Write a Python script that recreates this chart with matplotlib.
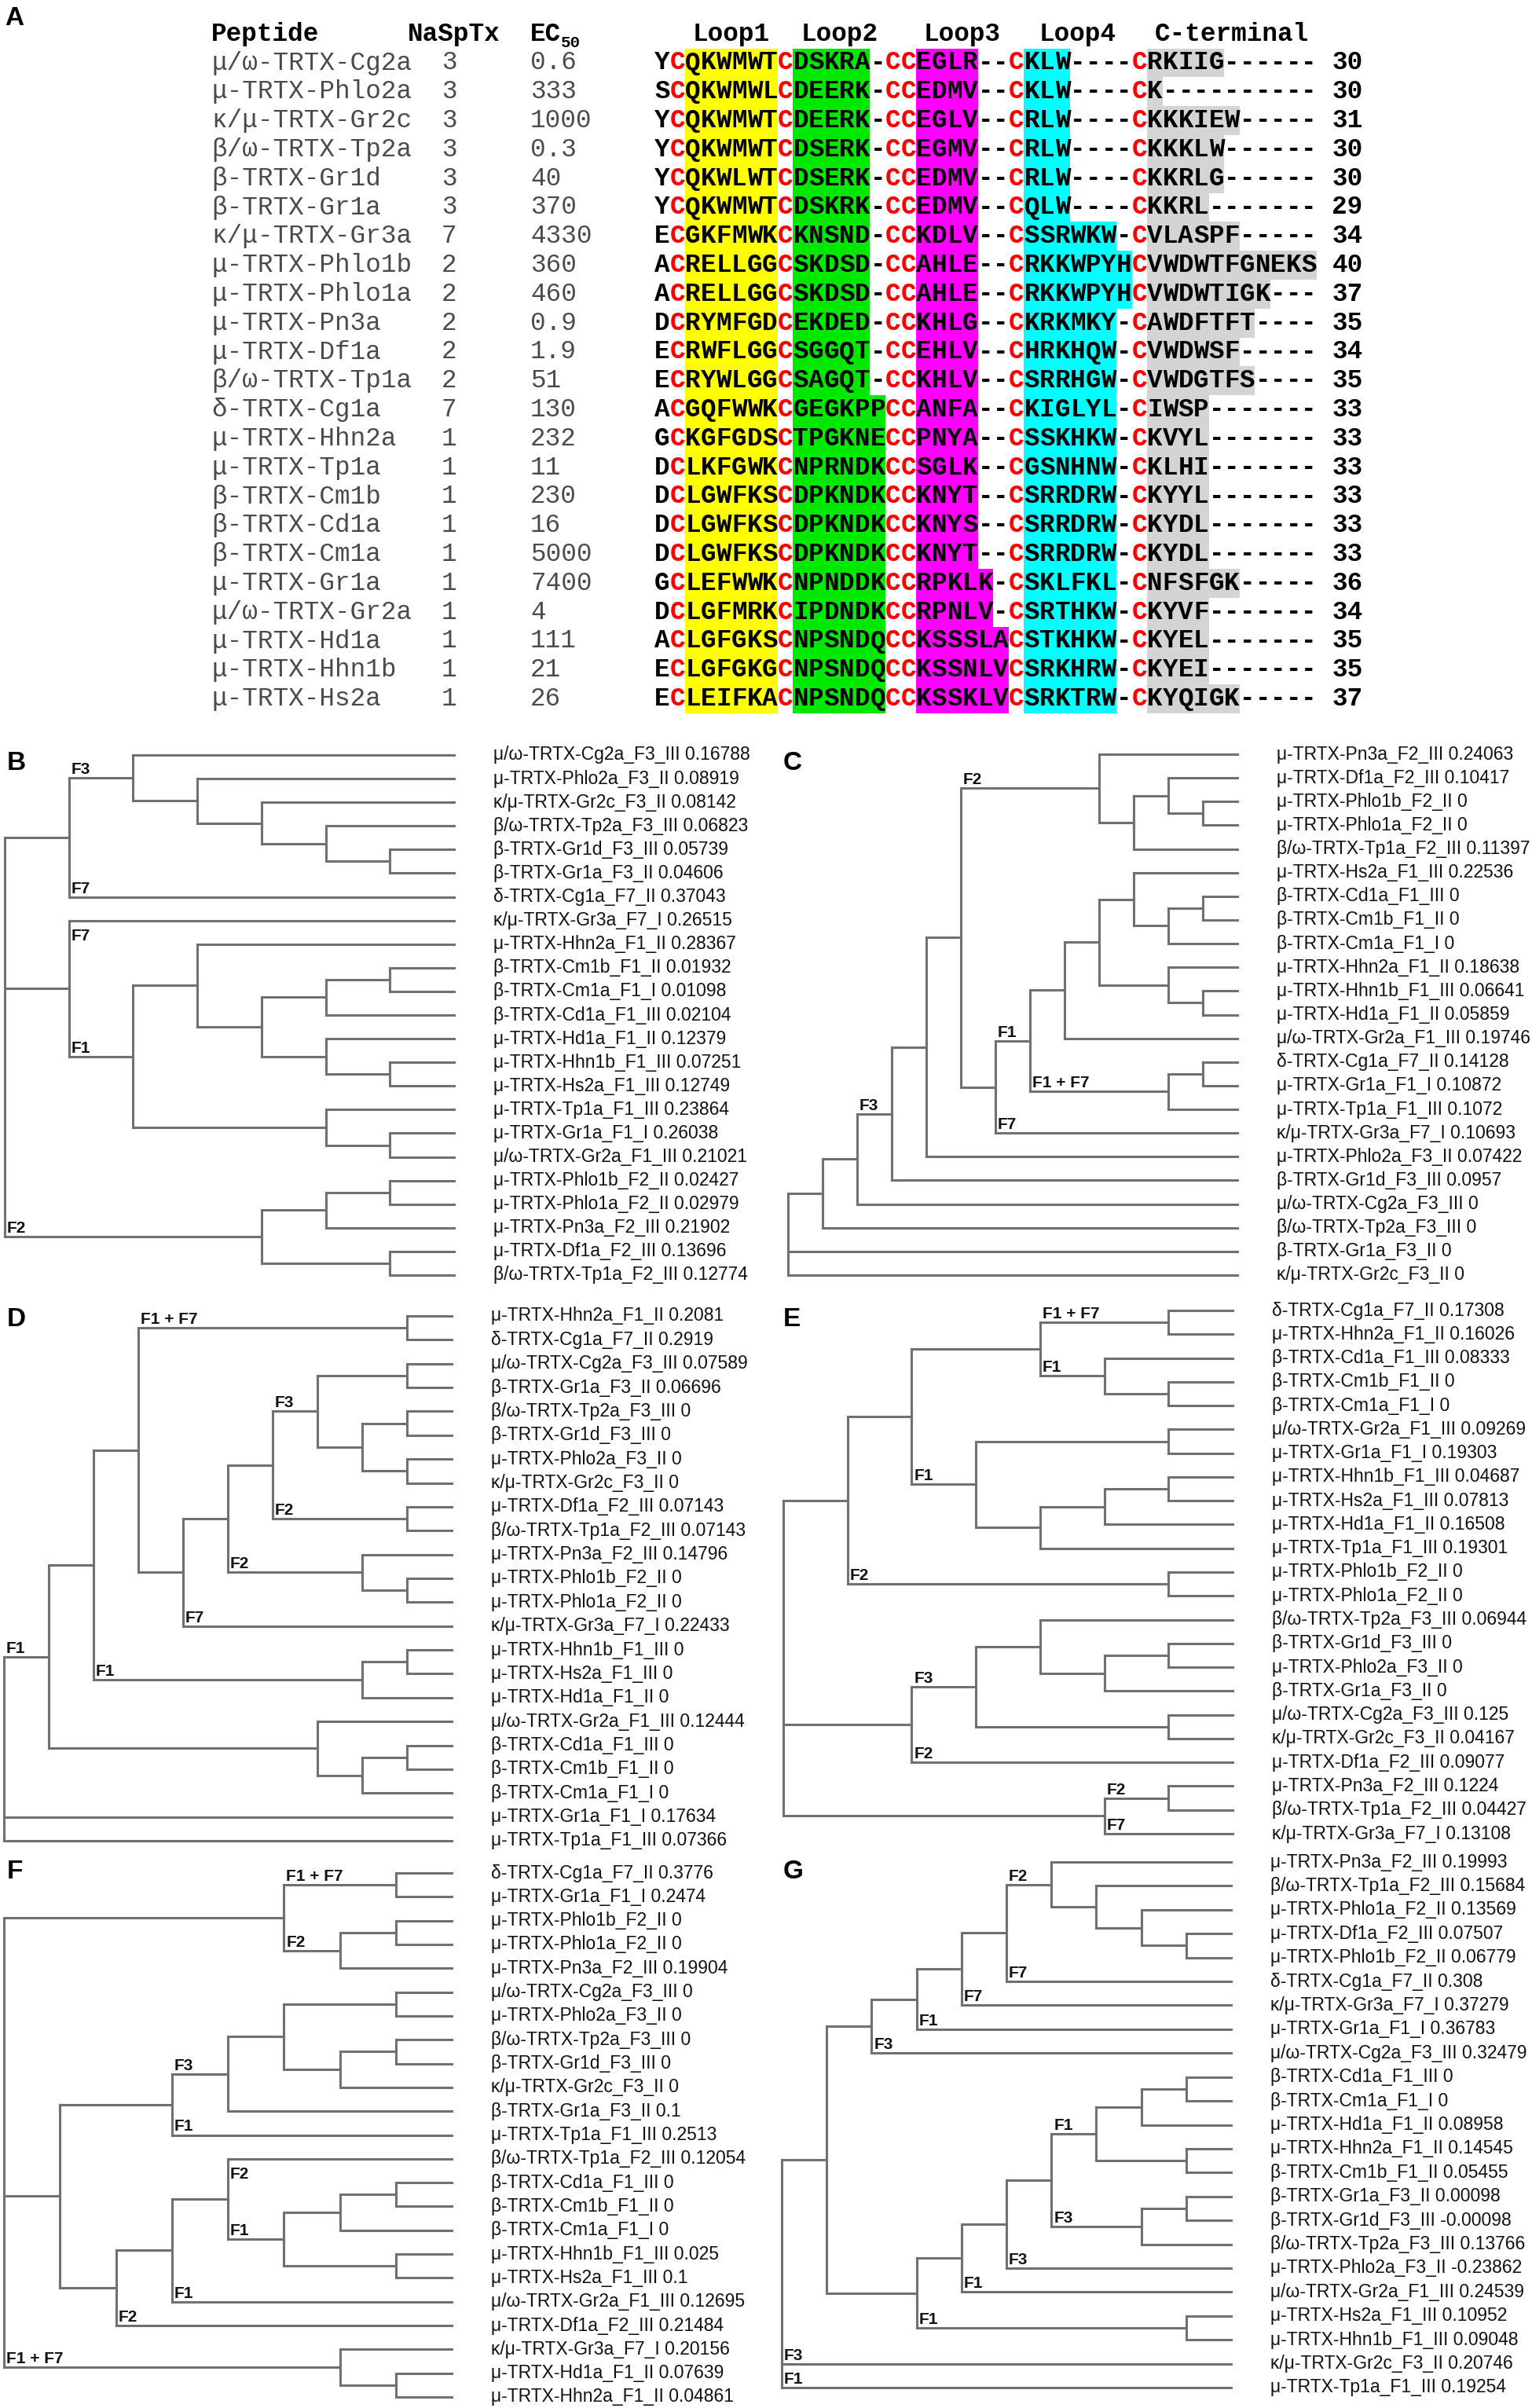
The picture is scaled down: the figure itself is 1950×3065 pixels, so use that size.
import matplotlib
matplotlib.use("Agg")
import matplotlib.pyplot as plt
from matplotlib.transforms import offset_copy

W, H, DPI = 1950, 3065, 100

# ---------------- panel A: alignment ----------------
PEPTIDES = ["μ/ω-TRTX-Cg2a", "μ-TRTX-Phlo2a", "κ/μ-TRTX-Gr2c", "β/ω-TRTX-Tp2a",
            "β-TRTX-Gr1d", "β-TRTX-Gr1a", "κ/μ-TRTX-Gr3a", "μ-TRTX-Phlo1b",
            "μ-TRTX-Phlo1a", "μ-TRTX-Pn3a", "μ-TRTX-Df1a", "β/ω-TRTX-Tp1a",
            "δ-TRTX-Cg1a", "μ-TRTX-Hhn2a", "μ-TRTX-Tp1a", "β-TRTX-Cm1b",
            "β-TRTX-Cd1a", "β-TRTX-Cm1a", "μ-TRTX-Gr1a", "μ/ω-TRTX-Gr2a",
            "μ-TRTX-Hd1a", "μ-TRTX-Hhn1b", "μ-TRTX-Hs2a"]
NASPTX = [3, 3, 3, 3, 3, 3, 7, 2, 2, 2, 2, 2, 7, 1, 1, 1, 1, 1, 1, 1, 1, 1, 1]
EC50 = ["0.6", "333", "1000", "0.3", "40", "370", "4330", "360", "460", "0.9", "1.9",
        "51", "130", "232", "11", "230", "16", "5000", "7400", "4", "111", "21", "26"]
FIRST = ["Y", "S", "Y", "Y", "Y", "Y", "E", "A", "A", "D", "E", "E",
         "A", "G", "D", "D", "D", "D", "G", "D", "A", "E", "E"]
LOOP1 = ["QKWMWT", "QKWMWL", "QKWMWT", "QKWMWT", "QKWLWT", "QKWMWT", "GKFMWK",
         "RELLGG", "RELLGG", "RYMFGD", "RWFLGG", "RYWLGG", "GQFWWK", "KGFGDS",
         "LKFGWK", "LGWFKS", "LGWFKS", "LGWFKS", "LEFWWK", "LGFMRK", "LGFGKS",
         "LGFGKG", "LEIFKA"]
LOOP2 = ["DSKRA", "DEERK", "DEERK", "DSERK", "DSERK", "DSKRK", "KNSND", "SKDSD",
         "SKDSD", "EKDED", "SGGQT", "SAGQT", "GEGKPP", "TPGKNE", "NPRNDK", "DPKNDK",
         "DPKNDK", "DPKNDK", "NPNDDK", "IPDNDK", "NPSNDQ", "NPSNDQ", "NPSNDQ"]
LOOP3 = ["EGLR", "EDMV", "EGLV", "EGMV", "EDMV", "EDMV", "KDLV", "AHLE", "AHLE",
         "KHLG", "EHLV", "KHLV", "ANFA", "PNYA", "SGLK", "KNYT", "KNYS", "KNYT",
         "RPKLK", "RPNLV", "KSSSLA", "KSSNLV", "KSSKLV"]
LOOP4 = ["KLW", "KLW", "RLW", "RLW", "RLW", "QLW", "SSRWKW", "RKKWPYH", "RKKWPYH",
         "KRKMKY", "HRKHQW", "SRRHGW", "KIGLYL", "SSKHKW", "GSNHNW", "SRRDRW",
         "SRRDRW", "SRRDRW", "SKLFKL", "SRTHKW", "STKHKW", "SRKHRW", "SRKTRW"]
CTERM = ["RKIIG", "K", "KKKIEW", "KKKLW", "KKRLG", "KKRL", "VLASPF", "VWDWTFGNEKS",
         "VWDWTIGK", "AWDFTFT", "VWDWSF", "VWDGTFS", "IWSP", "KVYL", "KLHI", "KYYL",
         "KYDL", "KYDL", "NFSFGK", "KYVF", "KYEL", "KYEI", "KYQIGK"]
LENGTHS = [30, 30, 31, 30, 30, 29, 34, 40, 37, 35, 34, 35, 33, 33, 33, 33, 33, 33,
           36, 34, 35, 35, 37]
REGION_NAMES = ["Loop1", "Loop2", "Loop3", "Loop4", "C-terminal"]

# ---------------- panels B-G: trees ----------------
# leaves are indices into *_NAMES; (label, node) marks a labelled clade,
# (label, node, "below") puts the label under the branch
B_NAMES = ["μ/ω-TRTX-Cg2a_F3_III", "μ-TRTX-Phlo2a_F3_II", "κ/μ-TRTX-Gr2c_F3_II",
           "β/ω-TRTX-Tp2a_F3_III", "β-TRTX-Gr1d_F3_III", "β-TRTX-Gr1a_F3_II",
           "δ-TRTX-Cg1a_F7_II", "κ/μ-TRTX-Gr3a_F7_I", "μ-TRTX-Hhn2a_F1_II",
           "β-TRTX-Cm1b_F1_II", "β-TRTX-Cm1a_F1_I", "β-TRTX-Cd1a_F1_III",
           "μ-TRTX-Hd1a_F1_II", "μ-TRTX-Hhn1b_F1_III", "μ-TRTX-Hs2a_F1_III",
           "μ-TRTX-Tp1a_F1_III", "μ-TRTX-Gr1a_F1_I", "μ/ω-TRTX-Gr2a_F1_III",
           "μ-TRTX-Phlo1b_F2_II", "μ-TRTX-Phlo1a_F2_II", "μ-TRTX-Pn3a_F2_III",
           "μ-TRTX-Df1a_F2_III", "β/ω-TRTX-Tp1a_F2_III"]
B_SCORES = ["0.16788", "0.08919", "0.08142", "0.06823", "0.05739", "0.04606",
            "0.37043", "0.26515", "0.28367", "0.01932", "0.01098", "0.02104",
            "0.12379", "0.07251", "0.12749", "0.23864", "0.26038", "0.21021",
            "0.02427", "0.02979", "0.21902", "0.13696", "0.12774"]
B_TOPO = [
    [("F3", [0, [1, [2, [3, [4, 5]]]]]), ("F7", 6)],
    [("F7", 7, "below"), ("F1", [[8, [[[9, 10], 11], [12, [13, 14]]]], [15, [16, 17]]])],
    ("F2", [[[18, 19], 20], [21, 22]]),
]

C_NAMES = ["μ-TRTX-Pn3a_F2_III", "μ-TRTX-Df1a_F2_III", "μ-TRTX-Phlo1b_F2_II",
           "μ-TRTX-Phlo1a_F2_II", "β/ω-TRTX-Tp1a_F2_III", "μ-TRTX-Hs2a_F1_III",
           "β-TRTX-Cd1a_F1_III", "β-TRTX-Cm1b_F1_II", "β-TRTX-Cm1a_F1_I",
           "μ-TRTX-Hhn2a_F1_II", "μ-TRTX-Hhn1b_F1_III", "μ-TRTX-Hd1a_F1_II",
           "μ/ω-TRTX-Gr2a_F1_III", "δ-TRTX-Cg1a_F7_II", "μ-TRTX-Gr1a_F1_I",
           "μ-TRTX-Tp1a_F1_III", "κ/μ-TRTX-Gr3a_F7_I", "μ-TRTX-Phlo2a_F3_II",
           "β-TRTX-Gr1d_F3_III", "μ/ω-TRTX-Cg2a_F3_III", "β/ω-TRTX-Tp2a_F3_III",
           "β-TRTX-Gr1a_F3_II", "κ/μ-TRTX-Gr2c_F3_II"]
C_SCORES = ["0.24063", "0.10417", "0", "0", "0.11397", "0.22536", "0", "0", "0",
            "0.18638", "0.06641", "0.05859", "0.19746", "0.14128", "0.10872", "0.1072",
            "0.10693", "0.07422", "0.0957", "0", "0", "0", "0"]
_c_f1 = ("F1", [[[[5, [[6, 7], 8]], [9, [10, 11]]], 12], ("F1 + F7", [[13, 14], 15])])
_c_core = [("F2", [0, [[1, [2, 3]], 4]]), [_c_f1, ("F7", 16)]]
C_TOPO = [[[("F3", [[_c_core, 17], 18]), 19], 20], 21, 22]

D_NAMES = ["μ-TRTX-Hhn2a_F1_II", "δ-TRTX-Cg1a_F7_II", "μ/ω-TRTX-Cg2a_F3_III",
           "β-TRTX-Gr1a_F3_II", "β/ω-TRTX-Tp2a_F3_III", "β-TRTX-Gr1d_F3_III",
           "μ-TRTX-Phlo2a_F3_II", "κ/μ-TRTX-Gr2c_F3_II", "μ-TRTX-Df1a_F2_III",
           "β/ω-TRTX-Tp1a_F2_III", "μ-TRTX-Pn3a_F2_III", "μ-TRTX-Phlo1b_F2_II",
           "μ-TRTX-Phlo1a_F2_II", "κ/μ-TRTX-Gr3a_F7_I", "μ-TRTX-Hhn1b_F1_III",
           "μ-TRTX-Hs2a_F1_III", "μ-TRTX-Hd1a_F1_II", "μ/ω-TRTX-Gr2a_F1_III",
           "β-TRTX-Cd1a_F1_III", "β-TRTX-Cm1b_F1_II", "β-TRTX-Cm1a_F1_I",
           "μ-TRTX-Gr1a_F1_I", "μ-TRTX-Tp1a_F1_III"]
D_SCORES = ["0.2081", "0.2919", "0.07589", "0.06696", "0", "0", "0", "0", "0.07143",
            "0.07143", "0.14796", "0", "0", "0.22433", "0", "0", "0", "0.12444", "0",
            "0", "0", "0.17634", "0.07366"]
_d_mid = [[[("F3", [[2, 3], [[4, 5], [6, 7]]]), ("F2", [8, 9])], ("F2", [10, [11, 12]])],
          ("F7", 13)]
_d_up = [[("F1 + F7", [0, 1]), _d_mid], ("F1", [[14, 15], 16])]
D_TOPO = [("F1", [_d_up, [17, [[18, 19], 20]]]), 21, 22]

E_NAMES = ["δ-TRTX-Cg1a_F7_II", "μ-TRTX-Hhn2a_F1_II", "β-TRTX-Cd1a_F1_III",
           "β-TRTX-Cm1b_F1_II", "β-TRTX-Cm1a_F1_I", "μ/ω-TRTX-Gr2a_F1_III",
           "μ-TRTX-Gr1a_F1_I", "μ-TRTX-Hhn1b_F1_III", "μ-TRTX-Hs2a_F1_III",
           "μ-TRTX-Hd1a_F1_II", "μ-TRTX-Tp1a_F1_III", "μ-TRTX-Phlo1b_F2_II",
           "μ-TRTX-Phlo1a_F2_II", "β/ω-TRTX-Tp2a_F3_III", "β-TRTX-Gr1d_F3_III",
           "μ-TRTX-Phlo2a_F3_II", "β-TRTX-Gr1a_F3_II", "μ/ω-TRTX-Cg2a_F3_III",
           "κ/μ-TRTX-Gr2c_F3_II", "μ-TRTX-Df1a_F2_III", "μ-TRTX-Pn3a_F2_III",
           "β/ω-TRTX-Tp1a_F2_III", "κ/μ-TRTX-Gr3a_F7_I"]
E_SCORES = ["0.17308", "0.16026", "0.08333", "0", "0", "0.09269", "0.19303", "0.04687",
            "0.07813", "0.16508", "0.19301", "0", "0", "0.06944", "0", "0", "0", "0.125",
            "0.04167", "0.09077", "0.1224", "0.04427", "0.13108"]
_e_top = [[[("F1 + F7", [0, 1]), ("F1", [2, [3, 4]])],
           ("F1", [[5, 6], [[[7, 8], 9], 10]])], ("F2", [11, 12])]
_e_f3 = [("F3", [[13, [[14, 15], 16]], [17, 18]]), ("F2", 19)]
E_TOPO = [_e_top, _e_f3, [("F2", [20, 21]), ("F7", 22)]]

F_NAMES = ["δ-TRTX-Cg1a_F7_II", "μ-TRTX-Gr1a_F1_I", "μ-TRTX-Phlo1b_F2_II",
           "μ-TRTX-Phlo1a_F2_II", "μ-TRTX-Pn3a_F2_III", "μ/ω-TRTX-Cg2a_F3_III",
           "μ-TRTX-Phlo2a_F3_II", "β/ω-TRTX-Tp2a_F3_III", "β-TRTX-Gr1d_F3_III",
           "κ/μ-TRTX-Gr2c_F3_II", "β-TRTX-Gr1a_F3_II", "μ-TRTX-Tp1a_F1_III",
           "β/ω-TRTX-Tp1a_F2_III", "β-TRTX-Cd1a_F1_III", "β-TRTX-Cm1b_F1_II",
           "β-TRTX-Cm1a_F1_I", "μ-TRTX-Hhn1b_F1_III", "μ-TRTX-Hs2a_F1_III",
           "μ/ω-TRTX-Gr2a_F1_III", "μ-TRTX-Df1a_F2_III", "κ/μ-TRTX-Gr3a_F7_I",
           "μ-TRTX-Hd1a_F1_II", "μ-TRTX-Hhn2a_F1_II"]
F_SCORES = ["0.3776", "0.2474", "0", "0", "0.19904", "0", "0", "0", "0", "0", "0.1",
            "0.2513", "0.12054", "0", "0", "0", "0.025", "0.1", "0.12695", "0.21484",
            "0.20156", "0.07639", "0.04861"]
_f_f3 = [("F3", [[[5, 6], [[7, 8], 9]], 10]), ("F1", 11)]
_f_f1 = [[[("F2", 12, "below"), ("F1", [[[13, 14], 15], [16, 17]])], ("F1", 18)], ("F2", 19)]
F_TOPO = [[("F1 + F7", [0, 1]), ("F2", [[2, 3], 4])], [_f_f3, _f_f1],
          ("F1 + F7", [20, [21, 22]])]

G_NAMES = ["μ-TRTX-Pn3a_F2_III", "β/ω-TRTX-Tp1a_F2_III", "μ-TRTX-Phlo1a_F2_II",
           "μ-TRTX-Df1a_F2_III", "μ-TRTX-Phlo1b_F2_II", "δ-TRTX-Cg1a_F7_II",
           "κ/μ-TRTX-Gr3a_F7_I", "μ-TRTX-Gr1a_F1_I", "μ/ω-TRTX-Cg2a_F3_III",
           "β-TRTX-Cd1a_F1_III", "β-TRTX-Cm1a_F1_I", "μ-TRTX-Hd1a_F1_II",
           "μ-TRTX-Hhn2a_F1_II", "β-TRTX-Cm1b_F1_II", "β-TRTX-Gr1a_F3_II",
           "β-TRTX-Gr1d_F3_III", "β/ω-TRTX-Tp2a_F3_III", "μ-TRTX-Phlo2a_F3_II",
           "μ/ω-TRTX-Gr2a_F1_III", "μ-TRTX-Hs2a_F1_III", "μ-TRTX-Hhn1b_F1_III",
           "κ/μ-TRTX-Gr2c_F3_II", "μ-TRTX-Tp1a_F1_III"]
G_SCORES = ["0.19993", "0.15684", "0.13569", "0.07507", "0.06779", "0.308", "0.37279",
            "0.36783", "0.32479", "0", "0", "0.08958", "0.14545", "0.05455", "0.00098",
            "-0.00098", "0.13766", "-0.23862", "0.24539", "0.10952", "0.09048",
            "0.20746", "0.19254"]
_g_top = [[[[("F2", [0, [1, [2, [3, 4]]]]), ("F7", 5)], ("F7", 6)], ("F1", 7)], ("F3", 8)]
_g_low = [[[[("F1", [[[9, 10], 11], [12, 13]]), ("F3", [[14, 15], 16])], ("F3", 17)],
           ("F1", 18)], ("F1", [19, 20])]
G_TOPO = [[_g_top, _g_low], ("F3", 21), ("F1", 22)]

# pixel boxes: root x, leaf x, first leaf y, last leaf y
TREE_BOX = {
    "B": (6, 578, 961, 1623),
    "C": (1003, 1575, 960, 1623),
    "D": (5, 575, 1675, 2343),
    "E": (997, 1569, 1668, 2334),
    "F": (5, 575, 2384, 3051),
    "G": (995, 1567, 2370, 3039),
}
PANEL_XY = {"A": (6, 32), "B": (9, 980), "C": (997, 980), "D": (9, 1688),
            "E": (997, 1688), "F": (9, 2391), "G": (997, 2391)}

LINE_C = "#707070"
SANS = "Liberation Sans"
MONO = "Liberation Mono"


def _unwrap(node):
    if isinstance(node, tuple):
        return node[1], node[0], len(node) > 2 and node[2] == "below"
    return node, None, False


def _place(node, vert, horiz, labs):
    """Return (y, height) of node; heights count edges down to the deepest leaf."""
    if isinstance(node, int):
        return float(node), 0
    kids = [_unwrap(c) for c in node]
    res = [_place(c, vert, horiz, labs) for c, _, _ in kids]
    h = 1 + max(r[1] for r in res)
    y = (res[0][0] + res[-1][0]) / 2
    vert.append((h, res[0][0], res[-1][0]))
    for (yc, hc), (_, lab, below) in zip(res, kids):
        horiz.append((h, hc, yc))
        if lab:
            labs.append((h, yc + 1 if below else yc, lab))
    return y, h


def draw_tree(fig, key, topo, names, scores):
    x0, x1, y0, y1 = TREE_BOX[key]
    vert, horiz, labs = [], [], []
    _, root_h = _place(topo, vert, horiz, labs)
    n = len(names)
    ax = fig.add_axes([x0 / W, 1 - y1 / H, (x1 - x0) / W, (y1 - y0) / H])
    ax.set_xlim(0, root_h)
    ax.set_ylim(n - 1, 0)
    ax.axis("off")
    ax.vlines([root_h - h for h, _, _ in vert], [a for _, a, _ in vert],
              [b for _, _, b in vert], color=LINE_C, lw=2.2, capstyle="projecting",
              clip_on=False)
    ax.hlines([y for _, _, y in horiz], [root_h - hp for hp, _, _ in horiz],
              [root_h - hc for _, hc, _ in horiz], color=LINE_C, lw=2.2,
              capstyle="projecting", clip_on=False)
    tr_leaf = offset_copy(ax.transData, fig=fig, x=50, y=0, units="dots")
    for i in range(n):
        ax.text(root_h, i, f"{names[i]} {scores[i]}", transform=tr_leaf,
                ha="left", va="center", fontsize=16.5, family=SANS, color="#111111")
    tr_lab = offset_copy(ax.transData, fig=fig, x=3, y=5, units="dots")
    for hp, y, lab in labs:
        ax.text(root_h - hp, y, lab, transform=tr_lab, ha="left", va="baseline",
                fontsize=15, fontweight="bold", family=SANS, color="#111111")


def draw_alignment(fig):
    cw, col0, row0, rh, bottom = 19.6, 833, 80, 36.8, 930
    ax = fig.add_axes([0, 1 - bottom / H, 1, bottom / H])
    ax.set_xlim(-col0 / cw, (W - col0) / cw)
    ax.set_ylim((bottom - row0) / rh, -row0 / rh)
    ax.axis("off")
    rows = list(range(len(PEPTIDES)))
    widths = [6, 6, 6, 7, 11]
    starts = [2, 9, 17, 24, 32]
    colors = ["#ffff00", "#00e800", "#ff00ff", "#00ffff", "#d4d4d4"]
    for loops, st, col in zip([LOOP1, LOOP2, LOOP3, LOOP4, CTERM], starts, colors):
        ax.barh(rows, [len(s) for s in loops], left=st, height=1.0, color=col, lw=0)

    fs = 23.5
    hy = -0.98
    for name, st, wd in zip(REGION_NAMES, starts, widths):
        ax.text(st + wd / 2, hy, name, ha="center", va="center", family=MONO,
                fontweight="bold", fontsize=fs)
    ax.text((269 - col0) / cw, hy, "Peptide", ha="left", va="center", family=MONO,
            fontweight="bold", fontsize=fs)
    ax.text((519 - col0) / cw, hy, "NaSpTx", ha="left", va="center", family=MONO,
            fontweight="bold", fontsize=fs)
    ax.text((675 - col0) / cw, hy, "EC", ha="left", va="center", family=MONO,
            fontweight="bold", fontsize=fs)
    ax.text((675 - col0) / cw + 2.0, hy + 0.3, "50", ha="left", va="center", family=MONO,
            fontweight="bold", fontsize=15)

    red_cols = {1, 8, 15, 16, 23, 31}
    for i in rows:
        ax.text((269 - col0) / cw, i, PEPTIDES[i], ha="left", va="center", family=MONO,
                fontsize=fs, color="#4a4a4a")
        ax.text((562 - col0) / cw, i, str(NASPTX[i]), ha="left", va="center",
                family=MONO, fontsize=fs, color="#4a4a4a")
        ax.text((675 - col0) / cw, i, EC50[i], ha="left", va="center", family=MONO,
                fontsize=fs, color="#4a4a4a")
        seq = (FIRST[i] + "C" + LOOP1[i] + "C" + LOOP2[i].ljust(6, "-") + "CC"
               + LOOP3[i].ljust(6, "-") + "C" + LOOP4[i].ljust(7, "-") + "C"
               + CTERM[i].ljust(11, "-"))
        for j, ch in enumerate(seq):
            ax.text(j + 0.5, i, ch, ha="center", va="center", family=MONO,
                    fontweight="bold", fontsize=fs,
                    color="#ff0000" if j in red_cols else "black")
        ax.text(44, i, str(LENGTHS[i]), ha="left", va="center", family=MONO,
                fontweight="bold", fontsize=fs)


fig = plt.figure(figsize=(W / DPI, H / DPI), dpi=DPI)
fig.patch.set_facecolor("white")
draw_alignment(fig)
for key, topo, names, scores in [("B", B_TOPO, B_NAMES, B_SCORES),
                                 ("C", C_TOPO, C_NAMES, C_SCORES),
                                 ("D", D_TOPO, D_NAMES, D_SCORES),
                                 ("E", E_TOPO, E_NAMES, E_SCORES),
                                 ("F", F_TOPO, F_NAMES, F_SCORES),
                                 ("G", G_TOPO, G_NAMES, G_SCORES)]:
    draw_tree(fig, key, topo, names, scores)
for letter, (px, py) in PANEL_XY.items():
    fig.text(px / W, 1 - py / H, letter, ha="left", va="baseline", fontsize=24,
             fontweight="bold", family=SANS)

fig.savefig("out.png", dpi=DPI, facecolor="white")
